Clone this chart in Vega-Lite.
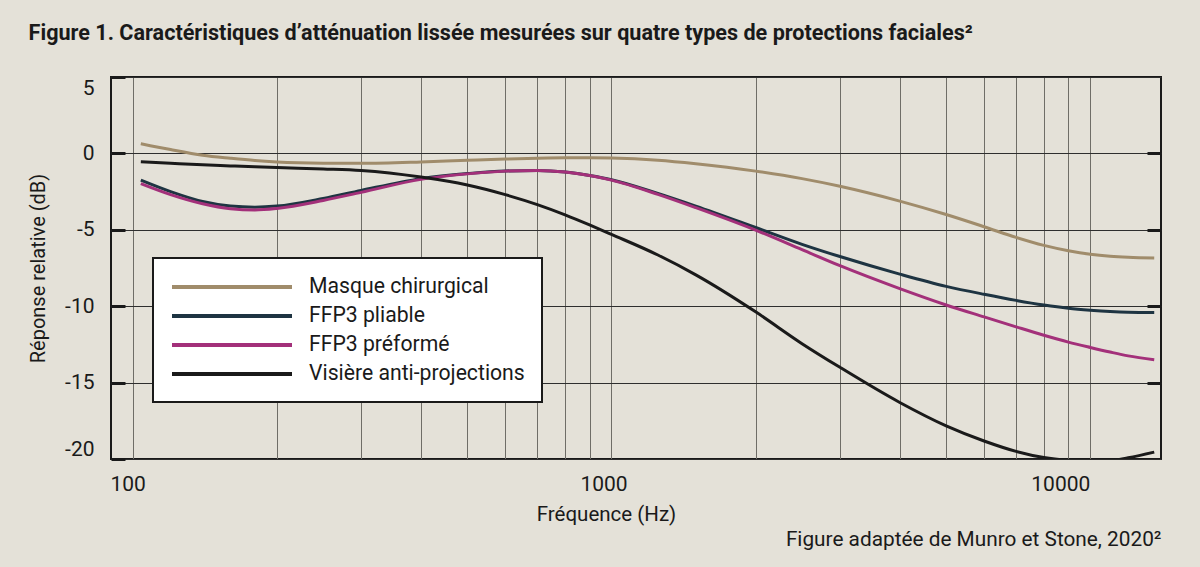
{
 "$schema": "https://vega.github.io/schema/vega-lite/v6.json",
 "width": 1050, "height": 382,
 "autosize": {"type": "none"},
 "padding": {"left": 111, "top": 77, "right": 39, "bottom": 108},
 "background": "#e4e1d8",
 "title": {"text": "Figure 1. Caractéristiques d’atténuation lissée mesurées sur quatre types de protections faciales²", "anchor": "start", "frame": "bounds", "font": "Roboto", "fontSize": 21.6, "fontWeight": "bold", "color": "#1a1a1a", "offset": 31},
 "data": {"values": [
  {"series":"Masque chirurgical","freq":104,"db":0.64},{"series":"Masque chirurgical","freq":120,"db":0.25},{"series":"Masque chirurgical","freq":140,"db":-0.12},{"series":"Masque chirurgical","freq":160,"db":-0.32},{"series":"Masque chirurgical","freq":180,"db":-0.47},{"series":"Masque chirurgical","freq":200,"db":-0.56},{"series":"Masque chirurgical","freq":250,"db":-0.64},{"series":"Masque chirurgical","freq":300,"db":-0.65},{"series":"Masque chirurgical","freq":400,"db":-0.56},{"series":"Masque chirurgical","freq":500,"db":-0.45},{"series":"Masque chirurgical","freq":600,"db":-0.37},{"series":"Masque chirurgical","freq":700,"db":-0.32},{"series":"Masque chirurgical","freq":800,"db":-0.29},{"series":"Masque chirurgical","freq":900,"db":-0.28},{"series":"Masque chirurgical","freq":1000,"db":-0.3},{"series":"Masque chirurgical","freq":1250,"db":-0.45},{"series":"Masque chirurgical","freq":1500,"db":-0.68},{"series":"Masque chirurgical","freq":2000,"db":-1.16},{"series":"Masque chirurgical","freq":2500,"db":-1.65},{"series":"Masque chirurgical","freq":3000,"db":-2.15},{"series":"Masque chirurgical","freq":4000,"db":-3.12},{"series":"Masque chirurgical","freq":5000,"db":-4.0},{"series":"Masque chirurgical","freq":6000,"db":-4.8},{"series":"Masque chirurgical","freq":7000,"db":-5.5},{"series":"Masque chirurgical","freq":8000,"db":-6.02},{"series":"Masque chirurgical","freq":9000,"db":-6.37},{"series":"Masque chirurgical","freq":10000,"db":-6.6},{"series":"Masque chirurgical","freq":11000,"db":-6.73},{"series":"Masque chirurgical","freq":12000,"db":-6.8},{"series":"Masque chirurgical","freq":13600,"db":-6.85},
  {"series":"FFP3 pliable","freq":104,"db":-1.75},{"series":"FFP3 pliable","freq":120,"db":-2.5},{"series":"FFP3 pliable","freq":140,"db":-3.15},{"series":"FFP3 pliable","freq":160,"db":-3.45},{"series":"FFP3 pliable","freq":180,"db":-3.52},{"series":"FFP3 pliable","freq":200,"db":-3.45},{"series":"FFP3 pliable","freq":250,"db":-2.95},{"series":"FFP3 pliable","freq":300,"db":-2.42},{"series":"FFP3 pliable","freq":400,"db":-1.65},{"series":"FFP3 pliable","freq":500,"db":-1.32},{"series":"FFP3 pliable","freq":600,"db":-1.15},{"series":"FFP3 pliable","freq":700,"db":-1.12},{"series":"FFP3 pliable","freq":800,"db":-1.22},{"series":"FFP3 pliable","freq":900,"db":-1.45},{"series":"FFP3 pliable","freq":1000,"db":-1.72},{"series":"FFP3 pliable","freq":1250,"db":-2.62},{"series":"FFP3 pliable","freq":1500,"db":-3.45},{"series":"FFP3 pliable","freq":2000,"db":-4.85},{"series":"FFP3 pliable","freq":2500,"db":-5.95},{"series":"FFP3 pliable","freq":3000,"db":-6.75},{"series":"FFP3 pliable","freq":4000,"db":-7.9},{"series":"FFP3 pliable","freq":5000,"db":-8.7},{"series":"FFP3 pliable","freq":6000,"db":-9.22},{"series":"FFP3 pliable","freq":7000,"db":-9.62},{"series":"FFP3 pliable","freq":8000,"db":-9.92},{"series":"FFP3 pliable","freq":9000,"db":-10.13},{"series":"FFP3 pliable","freq":10000,"db":-10.26},{"series":"FFP3 pliable","freq":11000,"db":-10.35},{"series":"FFP3 pliable","freq":12000,"db":-10.4},{"series":"FFP3 pliable","freq":13600,"db":-10.42},
  {"series":"FFP3 préformé","freq":104,"db":-1.98},{"series":"FFP3 préformé","freq":120,"db":-2.7},{"series":"FFP3 préformé","freq":140,"db":-3.3},{"series":"FFP3 préformé","freq":160,"db":-3.62},{"series":"FFP3 préformé","freq":180,"db":-3.7},{"series":"FFP3 préformé","freq":200,"db":-3.6},{"series":"FFP3 préformé","freq":250,"db":-3.08},{"series":"FFP3 préformé","freq":300,"db":-2.55},{"series":"FFP3 préformé","freq":400,"db":-1.7},{"series":"FFP3 préformé","freq":500,"db":-1.34},{"series":"FFP3 préformé","freq":600,"db":-1.16},{"series":"FFP3 préformé","freq":700,"db":-1.12},{"series":"FFP3 préformé","freq":800,"db":-1.22},{"series":"FFP3 préformé","freq":900,"db":-1.45},{"series":"FFP3 préformé","freq":1000,"db":-1.75},{"series":"FFP3 préformé","freq":1250,"db":-2.68},{"series":"FFP3 préformé","freq":1500,"db":-3.55},{"series":"FFP3 préformé","freq":2000,"db":-5.02},{"series":"FFP3 préformé","freq":2500,"db":-6.3},{"series":"FFP3 préformé","freq":3000,"db":-7.35},{"series":"FFP3 préformé","freq":4000,"db":-8.85},{"series":"FFP3 préformé","freq":5000,"db":-9.92},{"series":"FFP3 préformé","freq":6000,"db":-10.7},{"series":"FFP3 préformé","freq":7000,"db":-11.35},{"series":"FFP3 préformé","freq":8000,"db":-11.9},{"series":"FFP3 préformé","freq":9000,"db":-12.35},{"series":"FFP3 préformé","freq":10000,"db":-12.7},{"series":"FFP3 préformé","freq":11000,"db":-13.0},{"series":"FFP3 préformé","freq":12000,"db":-13.25},{"series":"FFP3 préformé","freq":13600,"db":-13.5},
  {"series":"Visière anti-projections","freq":104,"db":-0.55},{"series":"Visière anti-projections","freq":120,"db":-0.65},{"series":"Visière anti-projections","freq":140,"db":-0.75},{"series":"Visière anti-projections","freq":160,"db":-0.82},{"series":"Visière anti-projections","freq":180,"db":-0.88},{"series":"Visière anti-projections","freq":200,"db":-0.93},{"series":"Visière anti-projections","freq":250,"db":-1.02},{"series":"Visière anti-projections","freq":300,"db":-1.12},{"series":"Visière anti-projections","freq":400,"db":-1.55},{"series":"Visière anti-projections","freq":500,"db":-2.07},{"series":"Visière anti-projections","freq":600,"db":-2.7},{"series":"Visière anti-projections","freq":700,"db":-3.35},{"series":"Visière anti-projections","freq":800,"db":-4.02},{"series":"Visière anti-projections","freq":900,"db":-4.68},{"series":"Visière anti-projections","freq":1000,"db":-5.3},{"series":"Visière anti-projections","freq":1250,"db":-6.65},{"series":"Visière anti-projections","freq":1500,"db":-7.95},{"series":"Visière anti-projections","freq":2000,"db":-10.37},{"series":"Visière anti-projections","freq":2500,"db":-12.45},{"series":"Visière anti-projections","freq":3000,"db":-14.0},{"series":"Visière anti-projections","freq":4000,"db":-16.3},{"series":"Visière anti-projections","freq":5000,"db":-17.83},{"series":"Visière anti-projections","freq":6000,"db":-18.82},{"series":"Visière anti-projections","freq":7000,"db":-19.5},{"series":"Visière anti-projections","freq":8000,"db":-19.9},{"series":"Visière anti-projections","freq":9000,"db":-20.08},{"series":"Visière anti-projections","freq":10000,"db":-20.15},{"series":"Visière anti-projections","freq":11000,"db":-20.12},{"series":"Visière anti-projections","freq":12000,"db":-19.92},{"series":"Visière anti-projections","freq":13600,"db":-19.55}
 ]},
 "layer": [
  {
   "mark": {"type": "line", "strokeWidth": 3, "interpolate": "monotone", "clip": true},
   "encoding": {
    "x": {"field": "freq", "type": "quantitative",
     "scale": {"type": "log", "domain": [90.1, 14050], "nice": false},
     "axis": {"values": [100,200,300,400,500,600,700,800,900,1000,2000,3000,4000,5000,6000,7000,8000,9000,10000],
      "labelExpr": "datum.value == 100 || datum.value == 1000 || datum.value == 10000 ? '' + datum.value : ''",
      "labelOverlap": false, "grid": true, "gridColor": "#6f6d67", "gridWidth": 1, "ticks": false, "domain": false,
      "labelFont": "Roboto", "labelFontSize": 21, "labelColor": "#1a1a1a", "labelPadding": 14,
      "labelOffset": {"condition": [{"test": "datum.value == 10000", "value": -30}, {"test": "datum.value == 1000", "value": -8}], "value": -5},
      "title": "Fréquence (Hz)", "titleFont": "Roboto", "titleFontSize": 20.5, "titleFontWeight": "normal", "titleColor": "#1a1a1a",
      "titleX": 495, "titleY": 61, "titleBaseline": "alphabetic", "titleAlign": "center"}},
    "y": {"field": "db", "type": "quantitative",
     "scale": {"domain": [-20, 5], "nice": false, "zero": false},
     "axis": {"values": [-20,-15,-10,-5,0,5], "labelExpr": "'' + datum.value", "grid": true, "gridColor": "#2e2e2e", "gridWidth": 1, "domain": false,
      "ticks": true, "tickSize": -14, "tickWidth": 3, "tickColor": "#1a1a1a",
      "labelFont": "Roboto", "labelFontSize": 21, "labelColor": "#1a1a1a", "labelPadding": 31, "labelFlush": true,
      "title": "Réponse relative (dB)", "titleFont": "Roboto", "titleFontSize": 20, "titleFontWeight": "normal", "titleColor": "#1a1a1a", "titlePadding": 16}},
    "color": {"field": "series", "type": "nominal",
     "scale": {"domain": ["Masque chirurgical", "FFP3 pliable", "FFP3 préformé", "Visière anti-projections"], "range": ["#a08c6b", "#1e3442", "#a3307a", "#1a1a1a"]},
     "legend": {"orient": "none", "legendX": 42, "legendY": 181, "title": null, "symbolType": "M-1,0H11", "symbolSize": 400, "symbolStrokeWidth": 4,
      "labelFont": "Roboto", "labelFontSize": 21.2, "labelColor": "#1a1a1a", "labelOffset": 115, "labelLimit": 400, "padding": 17, "rowPadding": 6,
      "fillColor": "#ffffff", "strokeColor": "#1a1a1a"}}
   }
  },
  {
   "mark": {"type": "line", "opacity": 0},
   "encoding": {
    "x": {"field": "freq", "type": "quantitative",
     "axis": {"orient": "bottom", "domain": false, "ticks": false, "labels": false, "grid": false,
      "title": "Figure adaptée de Munro et Stone, 2020²", "titleX": 1050, "titleY": 86, "titleAlign": "right", "titleBaseline": "alphabetic",
      "titleFont": "Roboto", "titleFontSize": 20.8, "titleFontWeight": "normal", "titleColor": "#1a1a1a"}},
    "y": {"field": "db", "type": "quantitative",
     "axis": {"orient": "right", "values": [-15,-10,-5,0], "grid": false, "domain": false, "labels": false,
      "ticks": true, "tickSize": -14, "tickWidth": 3, "tickColor": "#1a1a1a", "title": null}},
    "detail": {"field": "series"}
   }
  }
 ],
 "resolve": {"axis": {"x": "independent", "y": "independent"}},
 "config": {
  "view": {"stroke": "#1a1a1a", "strokeWidth": 2},
  "legend": {"strokeWidth": 2}
 }
}
